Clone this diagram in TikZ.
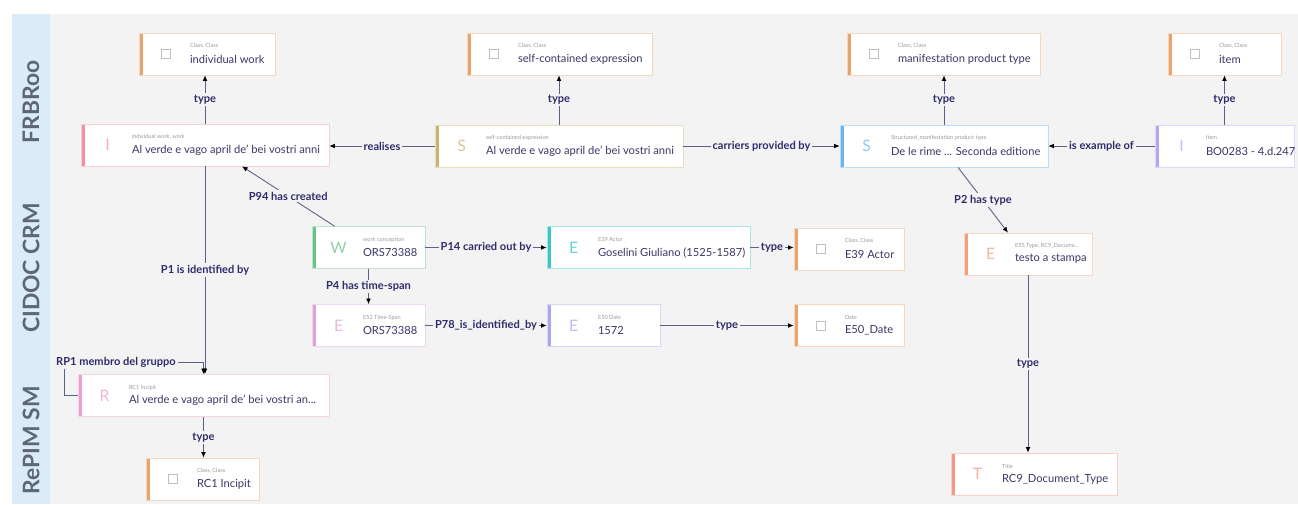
\documentclass[tikz,border=0pt]{standalone}
\usepackage{fontspec}
\setmainfont{Lato}
\usetikzlibrary{arrows.meta,calc}

\definecolor{panel}{HTML}{F3F3F4}
\definecolor{bandbg}{HTML}{DCEBF8}
\definecolor{bandtext}{HTML}{5F6872}
\definecolor{relline}{HTML}{5C5F8C}
\definecolor{lbltext}{HTML}{2F2C6B}
\definecolor{maintext}{HTML}{3B3868}
\definecolor{clsbar}{HTML}{E9A46E}
\definecolor{workbar}{HTML}{F2929F}
\definecolor{exprbar}{HTML}{C9B56C}
\definecolor{manibar}{HTML}{6AB4F0}
\definecolor{itembar}{HTML}{B3A9F2}
\definecolor{concbar}{HTML}{6DC18A}
\definecolor{actorbar}{HTML}{34C9C6}
\definecolor{typebar}{HTML}{F0A17E}
\definecolor{spanbar}{HTML}{DDA3DA}
\definecolor{datebar}{HTML}{A9A7F0}
\definecolor{incbar}{HTML}{EE9FCB}
\definecolor{titlebar}{HTML}{F29884}

\tikzset{
  box/.style={rectangle, draw=#1!45, line width=0.4pt, fill=white,
    minimum height=0.84cm, inner sep=0pt,
    path picture={\fill[#1] (path picture bounding box.south west)
      rectangle ([xshift=2.4pt]path picture bounding box.north west);}},
  ico/.style={text=#1!75, font=\fontsize{9}{9}\selectfont, inner sep=0pt},
  sq/.style={draw=black!25, fill=white, minimum size=5pt, inner sep=0pt},
  sub/.style={anchor=west, text=black!40, font=\fontsize{3.2}{3.5}\selectfont, inner sep=0pt},
  txt/.style={anchor=west, text=maintext, font=\fontsize{6.35}{7}\selectfont, inner sep=0pt},
  rel/.style={draw=relline, line width=0.5pt, -{Latex[length=3.2pt,width=2.8pt,color=black]}},
  lbl/.style={fill=panel, text=lbltext, font=\bfseries\fontsize{6.3}{7}\selectfont, inner sep=1pt},
  bandlbl/.style={text=bandtext, font=\bfseries\fontsize{13}{13}\selectfont, rotate=90},
}

% entity: name, centre, width, colour, letter, class, text
\newcommand{\ent}[7]{%
  \node[box=#4, minimum width={#3*0.02cm}] (#1) at (#2) {};
  \node[ico=#4] (#1-i) at ($(#1.west)+(27,0)$) {#5};
  \node[sub] (#1-s) at ($(#1.west)+(51,-8)$) {#6};
  \node[txt] (#1-t) at ($(#1.west)+(51,5)$) {#7};
}
% class: name, centre, width, class, text
\newcommand{\cls}[5]{%
  \node[box=clsbar, minimum width={#3*0.02cm}] (#1) at (#2) {};
  \node[sq] (#1-i) at ($(#1.west)+(27,0)$) {};
  \node[sub] (#1-s) at ($(#1.west)+(51,-8)$) {#4};
  \node[txt] (#1-t) at ($(#1.west)+(51,5)$) {#5};
}

\begin{document}
\begin{tikzpicture}[x=0.02cm, y=-0.02cm]
  \useasboundingbox (0,0) rectangle (1298,504);
  % background
  \fill[panel] (50,14) rectangle (1298,504);
  \fill[bandbg] (12,14) rectangle (50,504);
  \node[bandlbl] (frbroo) at (31,102) {FRBRoo};
  \node[bandlbl] (cidoc) at (31,268) {CIDOC CRM};
  \node[bandlbl] (repim) at (31,440) {RePIM SM};

  % FRBRoo
  \cls{cwork}{207,54}{136}{Class, Class}{individual work}
  \cls{cexpr}{559.5,54}{185}{Class, Class}{self-contained expression}
  \cls{cmani}{943.5,54}{193}{Class, Class}{manifestation product type}
  \cls{citem}{1224.5,54}{113}{Class, Class}{item}
  \ent{work}{205,145}{248}{workbar}{I}{individual work, work}{Al verde e vago april de' bei vostri anni}
  \ent{expr}{559,146}{248}{exprbar}{S}{self-contained expression}{Al verde e vago april de' bei vostri anni}
  \ent{mani}{944,146}{208}{manibar}{S}{Structured\_manifestation product type}{De le rime ... Seconda editione}
  \ent{item}{1224.5,146}{139}{itembar}{I}{Item}{BO0283 - 4.d.247}

  % CIDOC CRM
  \ent{conc}{368.5,247.5}{113}{concbar}{W}{work conception}{ORS73388}
  \ent{actor}{648.5,247.5}{203}{actorbar}{E}{E39 Actor}{Goselini Giuliano (1525-1587)}
  \cls{cactor}{849,249}{110}{Class, Class}{E39 Actor}
  \ent{dtype}{1028,254}{128}{typebar}{E}{E55 Type, RC9\_Docume...}{testo a stampa}
  \ent{span}{368.5,325.5}{113}{spanbar}{E}{E52 Time-Span}{ORS73388}
  \ent{date}{603.5,325.5}{113}{datebar}{E}{E50 Date}{1572}
  \cls{cdate}{849,325.5}{110}{Date}{E50\_Date}

  % RePIM SM
  \ent{inc}{203.5,395.5}{251}{incbar}{R}{RC1 Incipit}{Al verde e vago april de' bei vostri an...}
  \cls{cinc}{202.5,479}{113}{Class, Class}{RC1 Incipit}
  \ent{title}{1034,474}{166}{titlebar}{T}{Title}{RC9\_Document\_Type}

  % relations
  \draw[rel] (work.north) -- node[lbl] {type} (work.north |- cwork.south);
  \draw[rel] (expr.north) -- node[lbl] {type} (expr.north |- cexpr.south);
  \draw[rel] (mani.north) -- node[lbl] {type} (mani.north |- cmani.south);
  \draw[rel] (item.north) -- node[lbl] {type} (item.north |- citem.south);
  \draw[rel] (expr.west) -- node[lbl] {realises} (expr.west -| work.east);
  \draw[rel] (expr.east) -- node[lbl] {carriers provided by} (expr.east -| mani.west);
  \draw[rel] (item.west) -- node[lbl] {is example of} (item.west -| mani.east);
  \draw[rel] ($(conc.north)+(-34,0)$) -- node[lbl] {P94 has created} ($(work.south)+(37,0)$);
  \draw[rel] (work.south) -- node[lbl] {P1 is identified by} (work.south |- inc.north);
  \coordinate (loop) at ($(inc.west)+(-13,-33)$);
  \draw[rel] (inc.west) -- (inc.west -| loop) -- (loop)
    -- node[lbl, pos=0.37] {RP1 membro del gruppo} (loop -| inc.north) -- (inc.north);
  \draw[rel] (inc.south) -- node[lbl] {type} (inc.south |- cinc.north);
  \draw[rel] (conc.east) -- node[lbl] {P14 carried out by} (conc.east -| actor.west);
  \draw[rel] (actor.east) -- node[lbl] {type} (actor.east -| cactor.west);
  \draw[rel] (conc.south) -- node[lbl] {P4 has time-span} (conc.south |- span.north);
  \draw[rel] (span.east) -- node[lbl] {P78\_is\_identified\_by} (span.east -| date.west);
  \draw[rel] (date.east) -- node[lbl] {type} (date.east -| cdate.west);
  \draw[rel] ($(mani.south)+(14,0)$) -- node[lbl] {P2 has type} ($(dtype.north)+(-20,0)$);
  \draw[rel] (dtype.south) -- node[lbl] {type} (dtype.south |- title.north);
\end{tikzpicture}
\end{document}
